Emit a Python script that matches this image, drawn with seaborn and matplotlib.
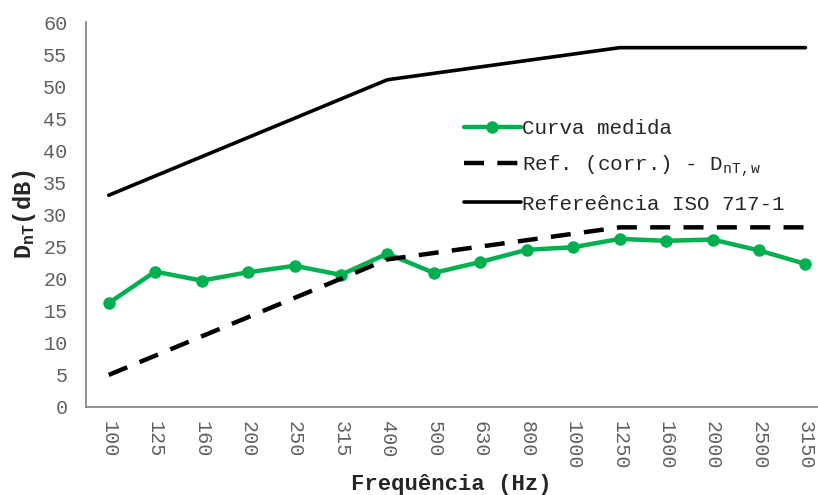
import matplotlib
matplotlib.use("Agg")
import matplotlib.pyplot as plt
import seaborn as sns
import numpy as np

freqs = ["100", "125", "160", "200", "250", "315", "400", "500", "630",
         "800", "1000", "1250", "1600", "2000", "2500", "3150"]
medida = [16.2, 21.1, 19.7, 21.0, 22.0, 20.6, 23.9, 20.9, 22.6,
          24.5, 24.9, 26.2, 25.9, 26.1, 24.4, 22.3]
ref_corr = [5, 8, 11, 14, 17, 20, 23, 24, 25, 26, 27, 28, 28, 28, 28, 28]
ref_iso = [33, 36, 39, 42, 45, 48, 51, 52, 53, 54, 55, 56, 56, 56, 56, 56]

sns.set_style("white")
plt.rcParams["font.family"] = ["Liberation Mono", "DejaVu Sans"]
plt.rcParams["mathtext.fontset"] = "custom"
plt.rcParams["mathtext.rm"] = "Liberation Mono"
plt.rcParams["mathtext.it"] = "Liberation Mono"
plt.rcParams["mathtext.bf"] = "Liberation Mono:bold"

fig = plt.figure(figsize=(8.18, 4.95), dpi=100)
ax = fig.add_axes([85.5 / 818, 88 / 495, (818 - 85.5) / 818, (407 - 22) / 495])

x = np.arange(len(freqs))
green = "#00B050"
sns.lineplot(x=x, y=medida, ax=ax, color=green, lw=3.2, marker="o",
             markersize=9, markeredgewidth=0, label="Curva medida")
sns.lineplot(x=x, y=ref_corr, ax=ax, color="black", lw=3.2,
             label=r"Ref. (corr.) - D$\mathregular{_{nT,w}}$")
ax.lines[-1].set_dashes((4.5, 3))
sns.lineplot(x=x, y=ref_iso, ax=ax, color="black", lw=2.6,
             label="Refereência ISO 717-1")

ax.set_xlim(-0.5, 15.27)
ax.set_ylim(0, 60)
ax.set_yticks(np.arange(0, 61, 5))
ax.set_xticks(x)
ax.set_xticklabels(freqs, rotation=-90, va="top", ha="center")

for s in ["top", "right"]:
    ax.spines[s].set_visible(False)
for s in ["left", "bottom"]:
    ax.spines[s].set_color("#7f7f7f")
    ax.spines[s].set_linewidth(1.2)
ax.tick_params(axis="both", direction="out", length=4, width=1.2,
               color="#7f7f7f", labelcolor="#606060", labelsize=14.5)
ax.tick_params(axis="x", pad=6)
ax.tick_params(axis="y", pad=9)

ax.set_ylabel(r"$\mathbf{D_{nT}}$(dB)", fontsize=17, fontweight="bold",
              labelpad=4)
ax.set_xlabel("Frequência (Hz)", fontsize=16, fontweight="bold", labelpad=3)

for t in ax.get_xticklabels() + ax.get_yticklabels():
    t.set_fontweight("light")

leg = ax.legend(loc="upper left", bbox_to_anchor=(0.505, 0.77), frameon=False,
                fontsize=15, handlelength=2.75, handletextpad=0.05,
                labelspacing=0.75, borderaxespad=0)

fig.savefig("out.png", dpi=100)
